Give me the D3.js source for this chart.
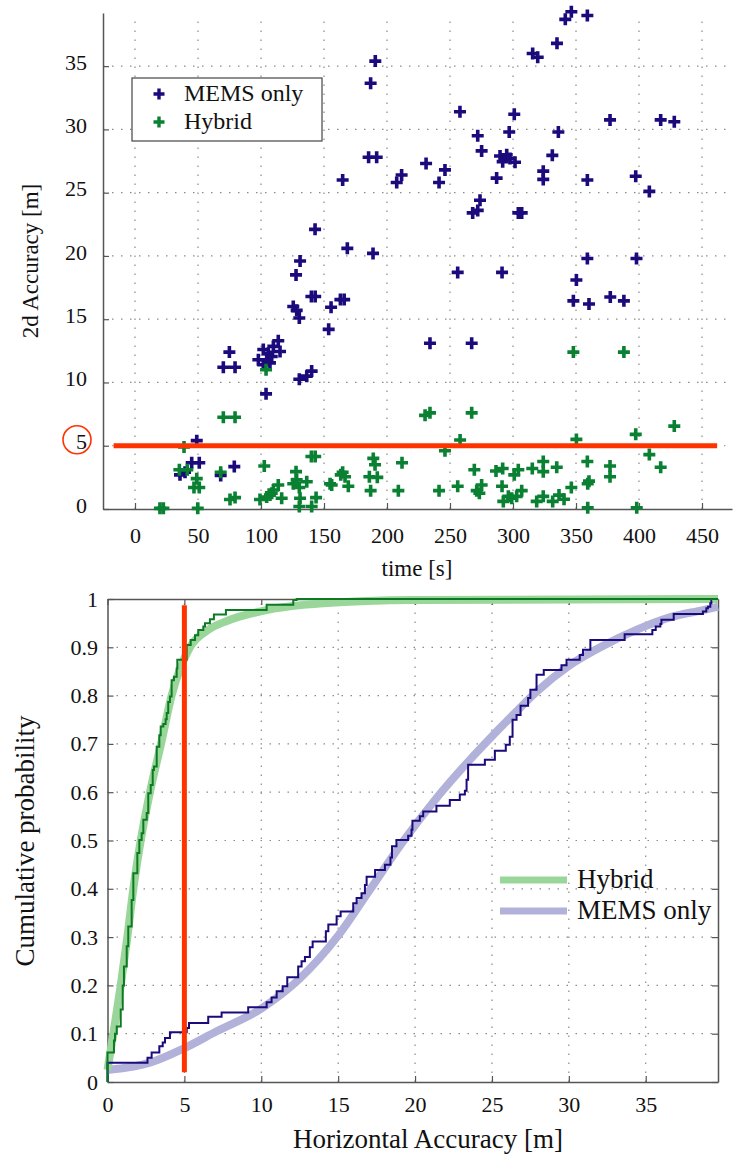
<!DOCTYPE html>
<html>
<head>
<meta charset="utf-8">
<script src="https://cdn.jsdelivr.net/npm/d3@7"></script>
<style>
body{margin:0;background:#fff}
text{font-family:"Liberation Serif","Times New Roman",serif;fill:#111}
</style>
</head>
<body>
<svg id="svg" width="740" height="1154"></svg>
<script>
//top chart data: [time s, 2d error m]
const memsPoints=[[190.7,35.4],[187,33.65],[185.4,27.8],[191.8,27.8],[164.8,26.0],[207.7,25.8],[211.6,26.4],[142.9,22.1],[168.5,20.6],[188.9,20.2],[131,19.6],
    [346.3,39.3],[341.5,38.7],[359,39.0],[334.9,36.8],[315.6,36.0],[319.6,35.7],[257.9,31.4],[301,31.2],[377,30.75],[417.2,30.75],[428,30.6],
    [272,29.5],[297,29.8],[336,29.8],[275.1,28.3],[231,27.3],[246,26.8],[241.3,25.8],[289.7,27.9],[295,28.0],[291.8,27.45],[297.6,27.7],[301.6,27.4],
    [287,26.15],[331.2,27.95],[324,26.7],[324,26.05],[359,26.0],[397.4,26.3],[408.2,25.1],[273.8,24.4],[268,23.4],[272,23.6],[304.2,23.4],[306.9,23.4],
    [359,19.8],[398,19.8],[256.1,18.7],[291.3,18.7],[350.3,18.1],[347.9,16.45],[360.3,16.2],[377.2,16.75],[388,16.45],[234.1,13.1],[267.2,13.1],
    [127.8,18.5],[140,16.8],[143,16.8],[163,16.55],[166,16.55],[155.6,15.95],[125.6,16.0],[128.3,15.7],[130.4,15.1],[153.7,14.2],
    [113.7,13.3],[109.8,12.85],[101.8,12.6],[105.8,12.3],[115.1,12.45],[97.9,11.8],[104.5,11.8],[108.5,12.05],[101.8,11.4],[107.1,11.55],
    [74.9,12.4],[70.1,11.2],[79.4,11.2],[130.4,10.25],[136.3,10.5],[140.2,10.9],[104,9.1],
    [49,5.4],[45,3.65],[51,3.65],[78.8,3.35],[35.7,2.7],[39.7,2.9],[68,2.65]]
const hybridPoints=[[38.9,4.9],[35.2,3.1],[41.5,3.1],[49,2.4],[46.8,1.7],[51,1.7],[68,2.9],[70.1,7.25],[79.4,7.25],[75.4,0.75],[79.4,0.9],
    [19.8,0.05],[22.5,0.05],[49.8,0.05],[102.6,3.4],[104,11.0],[99.2,0.75],[104.5,0.95],[108.5,1.25],[113.7,1.9],[109.8,1.5],[116.4,0.85],[107.1,1.1],
    [127.8,2.95],[125.6,2.0],[130.4,1.7],[136.3,2.15],[128.3,2.3],[131,0.85],[130.4,0.2],[140.2,0.2],[143.7,0.9],[140,4.15],[143,4.15],
    [154.8,2.0],[156.1,1.9],[164.8,2.9],[163.3,2.7],[166.7,2.55],[169.3,1.8],[189.1,4.0],[190.5,3.5],[186,2.55],[192.3,2.5],[187,1.45],
    [211.9,3.65],[209,1.45],
    [347.9,12.4],[388,12.4],[230.2,7.4],[234.1,7.6],[267.2,7.6],[428,6.55],[397.4,5.9],[258,5.45],[350.3,5.5],[246,4.6],[408.2,4.3],[417.2,3.3],
    [359,3.75],[377,3.4],[377,2.55],[269.3,3.1],[286.5,3.0],[291.8,3.2],[301,2.7],[304.2,3.1],[315.3,3.2],[324,3.75],[324,2.95],[334.7,3.3],
    [241.3,1.45],[256.1,1.8],[271.2,1.45],[275.1,1.9],[273.3,1.25],[291.3,1.8],[292.3,0.6],[296.3,1.0],[299,0.85],[302.9,1.0],[306.9,1.45],
    [318.8,0.6],[324,1.0],[331.5,0.6],[336.5,1.1],[340.5,0.77],[346.3,1.7],[359.3,2.0],[360.3,2.2],[359.3,0.1],[398.2,0.1]]
const topXTicks=[0,50,100,150,200,250,300,350,400,450]
const topYTicks=[0,5,10,15,20,25,30,35]
const threshold=5

//bottom chart data: empirical CDF steps [accuracy m, probability] and fitted curves
const memsCdf=[[0,0],[0,0.04],[2.6,0.05],[2.87,0.061],[3.37,0.074],[3.59,0.082],[3.74,0.091],[4.06,0.103],[5.15,0.112],[5.3,0.122],[6.55,0.135],
    [7.42,0.144],[9.15,0.155],[10.35,0.165],[10.67,0.175],[11.0,0.188],[11.39,0.198],[11.69,0.217],[12.4,0.239],[12.62,0.25],[12.84,0.259],
    [13.16,0.279],[13.34,0.291],[14.2,0.312],[14.36,0.326],[14.9,0.343],[15.16,0.353],[15.98,0.37],[16.2,0.381],[16.52,0.391],[16.74,0.408],
    [16.85,0.425],[17.4,0.439],[18.04,0.45],[18.4,0.465],[18.5,0.488],[18.79,0.501],[19.55,0.51],[19.77,0.522],[19.83,0.541],[20.31,0.55],
    [20.53,0.56],[21.39,0.572],[22.26,0.584],[22.91,0.595],[23.24,0.603],[23.35,0.626],[23.45,0.657],[24.54,0.667],[25.19,0.686],[25.9,0.698],
    [26.16,0.715],[26.34,0.75],[26.6,0.76],[26.86,0.779],[27.35,0.795],[27.5,0.812],[27.9,0.843],[28.37,0.853],[29.52,0.863],[29.85,0.874],
    [30.71,0.884],[30.92,0.895],[31.4,0.915],[33.63,0.927],[35.43,0.936],[35.65,0.943],[35.95,0.948],[36.02,0.957],[36.82,0.969],[38.72,0.974],
    [38.94,0.981],[39.05,0.984],[39.2,0.991],[39.27,0.997],[39.3,0.997]]
const hybridCdf=[[0,0],[0,0.061],[0.42,0.086],[0.49,0.1],[0.6,0.115],[0.86,0.15],[0.99,0.2],[1.07,0.239],[1.25,0.281],[1.35,0.322],[1.57,0.377],
    [1.68,0.432],[1.94,0.474],[2.07,0.501],[2.22,0.515],[2.33,0.543],[2.55,0.557],[2.65,0.598],[2.81,0.615],[2.94,0.646],[3.02,0.653],[3.2,0.694],
    [3.37,0.718],[3.46,0.736],[3.63,0.741],[3.78,0.751],[3.85,0.764],[3.95,0.787],[4.06,0.798],[4.17,0.832],[4.32,0.839],[4.5,0.856],[4.54,0.874],
    [5.15,0.905],[5.41,0.915],[5.69,0.925],[5.9,0.936],[6.23,0.943],[6.34,0.95],[6.66,0.958],[6.92,0.968],[7.7,0.977],[10.35,0.988],[12.08,0.998],
    [12.3,1],[39.7,1]]
const memsFit=[[0,0.025],[1.68,0.032],[2.76,0.04],[5,0.07],[7.1,0.105],[10,0.152],[12.5,0.214],[15,0.303],[17,0.395],[19.2,0.497],[21.4,0.588],
    [23.56,0.667],[25.07,0.718],[26.37,0.76],[27.9,0.808],[30.06,0.863],[32.22,0.903],[34.39,0.936],[36.56,0.962],[38.72,0.977],[39.7,0.984]]
const hybridFit=[[0,0.025],[0.38,0.1],[0.86,0.2],[1.29,0.3],[1.68,0.4],[2.16,0.5],[2.76,0.6],[3.48,0.7],[4.17,0.8],[5.36,0.9],[6.5,0.935],
    [7.8,0.955],[10.5,0.978],[14,0.991],[20,0.998],[39.7,1]]
const botXTicks=[0,5,10,15,20,25,30,35]
const botYTicks=[0,0.1,0.2,0.3,0.4,0.5,0.6,0.7,0.8,0.9,1]

const navy="#1a0a7c", green="#0a8032", red="#ff3300"
const lightGreen="#9ad69a", lavender="#b1b1da"
const axisColor="#555"
const serif='"Liberation Serif","Times New Roman",serif'

var svg=d3.select("#svg")

// ================= top chart =================
var xT=d3.scaleLinear().domain([-25.4,473.8]).range([103,732])
var yT=d3.scaleLinear().domain([0,39.2]).range([509,13])

var topG=svg.append("g")

//dotted grid
topG.selectAll(".vgrid").data(topXTicks).enter().append("line")
    .attr("x1",d=>xT(d)).attr("x2",d=>xT(d))
    .attr("y1",yT.range()[0]).attr("y2",yT.range()[1]+4)
    .attr("stroke","#8a8a8a").attr("stroke-width",1.2).attr("stroke-dasharray","1.5,7.5")
topG.selectAll(".hgrid").data(topYTicks.slice(1)).enter().append("line")
    .attr("x1",xT.range()[0]).attr("x2",xT.range()[1])
    .attr("y1",d=>yT(d)).attr("y2",d=>yT(d))
    .attr("stroke","#8a8a8a").attr("stroke-width",1.2).attr("stroke-dasharray","1.5,7.5")

//axes
var xAxisT=topG.append("g").attr("transform","translate(0,"+yT(0)+")")
    .call(d3.axisBottom(xT).tickValues(topXTicks).tickSizeInner(-6).tickSizeOuter(0).tickPadding(18))
var yAxisT=topG.append("g").attr("transform","translate("+xT.range()[0]+",0)")
    .call(d3.axisLeft(yT).tickValues(topYTicks).tickSizeInner(-6).tickSizeOuter(0).tickPadding(16))
yAxisT.selectAll("text").attr("dy","0.14em")
;[xAxisT,yAxisT].forEach(a=>{
    a.attr("font-family",serif)
    a.select(".domain").attr("stroke",axisColor).attr("stroke-width",1.5)
    a.selectAll(".tick line").attr("stroke",axisColor).attr("stroke-width",1.2)
    a.selectAll("text").style("font-family",serif).style("font-size","22px").attr("fill","#111")
})

//scatter (plus markers)
var plus="M-6,0H6M0,-6V6"
topG.selectAll(".mems").data(memsPoints).enter().append("path")
    .attr("d",plus).attr("transform",d=>"translate("+xT(d[0])+","+yT(d[1])+")")
    .attr("stroke",navy).attr("stroke-width",3.6).attr("fill","none")
topG.selectAll(".hyb").data(hybridPoints).enter().append("path")
    .attr("d",plus).attr("transform",d=>"translate("+xT(d[0])+","+yT(d[1])+")")
    .attr("stroke",green).attr("stroke-width",3.6).attr("fill","none")

//5 m threshold
topG.append("line")
    .attr("x1",xT(-17)).attr("x2",xT(462))
    .attr("y1",yT(threshold)).attr("y2",yT(threshold))
    .attr("stroke",red).attr("stroke-width",5)
topG.append("circle")
    .attr("cx",77).attr("cy",yT(threshold)-6).attr("r",14)
    .attr("fill","none").attr("stroke",red).attr("stroke-width",1.6)

//legend
var legT=topG.append("g")
legT.append("rect").attr("x",132).attr("y",78).attr("width",190).attr("height",63)
    .attr("fill","#fff").attr("stroke","#444").attr("stroke-width",1.2)
legT.selectAll("path").data([navy,green]).enter().append("path")
    .attr("d","M-5.5,0H5.5M0,-5.5V5.5").attr("transform",(d,i)=>"translate(159,"+(94+i*28)+")")
    .attr("stroke",d=>d).attr("stroke-width",3.4)
legT.selectAll("text").data(["MEMS only","Hybrid"]).enter().append("text")
    .attr("x",184).attr("y",(d,i)=>101+i*28).style("font-size","24px").text(d=>d)

//labels
topG.append("text").attr("x",417).attr("y",576).attr("text-anchor","middle").style("font-size","23px").text("time [s]")
topG.append("text").attr("transform","translate(38,261) rotate(-90)").attr("text-anchor","middle").style("font-size","23px").text("2d Accuracy [m]")

// ================= bottom chart =================
var xB=d3.scaleLinear().domain([0,39.7]).range([107.5,718])
var yB=d3.scaleLinear().domain([0,1]).range([1082,599])

var bot=svg.append("g")

bot.selectAll(".vgrid").data(botXTicks.slice(1)).enter().append("line")
    .attr("x1",d=>xB(d)).attr("x2",d=>xB(d))
    .attr("y1",yB(0)).attr("y2",yB(1))
    .attr("stroke","#8a8a8a").attr("stroke-width",1.2).attr("stroke-dasharray","1.5,7.5")
bot.selectAll(".hgrid").data(botYTicks.slice(1,-1)).enter().append("line")
    .attr("x1",xB.range()[0]).attr("x2",xB.range()[1])
    .attr("y1",d=>yB(d)).attr("y2",d=>yB(d))
    .attr("stroke","#8a8a8a").attr("stroke-width",1.2).attr("stroke-dasharray","1.5,7.5")

var axB=[
    bot.append("g").attr("transform","translate(0,"+yB(0)+")").call(d3.axisBottom(xB).tickValues(botXTicks).tickSizeInner(-6).tickSizeOuter(0).tickPadding(14.5)),
    bot.append("g").attr("transform","translate(0,"+yB(1)+")").call(d3.axisTop(xB).tickValues(botXTicks).tickSizeInner(-6).tickSizeOuter(0).tickFormat("")),
    bot.append("g").attr("transform","translate("+xB.range()[0]+",0)").call(d3.axisLeft(yB).tickValues(botYTicks).tickSizeInner(-6).tickSizeOuter(0).tickPadding(9.5).tickFormat(d=>d===0||d===1?d:d3.format(".1f")(d))),
    bot.append("g").attr("transform","translate("+xB.range()[1]+",0)").call(d3.axisRight(yB).tickValues(botYTicks).tickSizeInner(-6).tickSizeOuter(0).tickFormat(""))
]
axB.forEach(a=>{
    a.attr("font-family",serif)
    a.select(".domain").attr("stroke",axisColor).attr("stroke-width",1.5)
    a.selectAll(".tick line").attr("stroke",axisColor).attr("stroke-width",1.2)
    a.selectAll("text").style("font-family",serif).style("font-size","22px").attr("fill","#111")
})

var fitLine=d3.line().x(d=>xB(d[0])).y(d=>yB(d[1])).curve(d3.curveMonotoneX)
var stepLine=d3.line().x(d=>xB(d[0])).y(d=>yB(d[1])).curve(d3.curveStepAfter)

bot.append("path").datum(memsFit).attr("d",fitLine).attr("fill","none").attr("stroke",lavender).attr("stroke-width",8)
bot.append("path").datum(hybridFit).attr("d",fitLine).attr("fill","none").attr("stroke",lightGreen).attr("stroke-width",8)
bot.append("path").datum(memsCdf).attr("d",stepLine).attr("fill","none").attr("stroke",navy).attr("stroke-width",2)
bot.append("path").datum(hybridCdf).attr("d",stepLine).attr("fill","none").attr("stroke","#0b7a22").attr("stroke-width",2)

//5 m marker
bot.append("line")
    .attr("x1",xB(threshold)).attr("x2",xB(threshold))
    .attr("y1",yB(0.02)).attr("y2",yB(0.987))
    .attr("stroke",red).attr("stroke-width",5)

//legend
var legB=bot.append("g")
legB.selectAll("line").data([lightGreen,lavender]).enter().append("line")
    .attr("x1",500).attr("x2",567).attr("y1",(d,i)=>880+i*31).attr("y2",(d,i)=>880+i*31)
    .attr("stroke",d=>d).attr("stroke-width",7)
legB.selectAll("text").data(["Hybrid","MEMS only"]).enter().append("text")
    .attr("x",577).attr("y",(d,i)=>888+i*31).style("font-size","27px").text(d=>d)

bot.append("text").attr("x",428).attr("y",1148).attr("text-anchor","middle").style("font-size","27px").text("Horizontal Accuracy [m]")
bot.append("text").attr("transform","translate(34,841) rotate(-90)").attr("text-anchor","middle").style("font-size","27px").text("Cumulative probability")
</script>
</body>
</html>
